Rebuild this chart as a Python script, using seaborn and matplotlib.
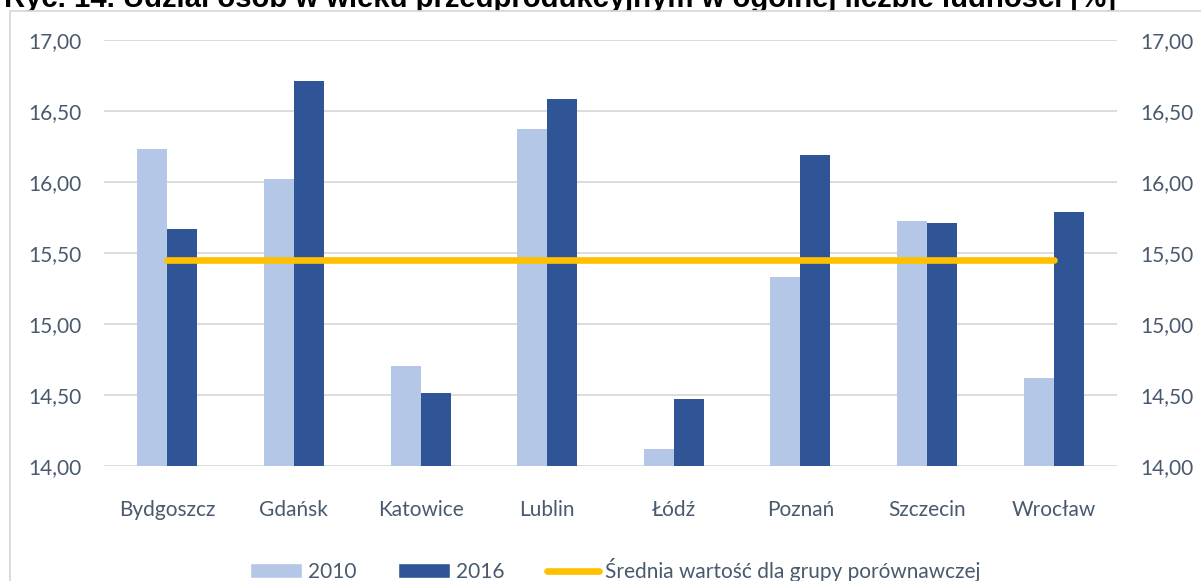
import numpy as np
import pandas as pd
import matplotlib
matplotlib.use("Agg")
import matplotlib.pyplot as plt
from matplotlib.patches import Rectangle
from matplotlib.lines import Line2D
import seaborn as sns

cities = ["Bydgoszcz", "Gdańsk", "Katowice", "Lublin", "Łódź", "Poznań", "Szczecin", "Wrocław"]
values_2010 = [16.23, 16.02, 14.70, 16.37, 14.12, 15.33, 15.72, 14.62]
values_2016 = [15.67, 16.71, 14.51, 16.58, 14.47, 16.19, 15.71, 15.79]
group_avg = [15.45, 15.45, 15.45, 15.45, 15.45, 15.45, 15.45, 15.45]
years = ["2010", "2016"]
y_ticks = [14.0, 14.5, 15.0, 15.5, 16.0, 16.5, 17.0]

title = "Ryc. 14. Udział osób w wieku przedprodukcyjnym w ogólnej liczbie ludności [%]"
avg_label = "Średnia wartość dla grupy porównawczej"

colors = ["#B4C7E7", "#2F5597"]
line_color = "#FFC000"
text_color = "#495A6E"
grid_color = "#D9D9D9"

sns.set_theme(style="white")
plt.rcParams["font.family"] = ["Lato", "DejaVu Sans"]

df = pd.DataFrame({
    "city": cities * 2,
    "year": [years[0]] * len(cities) + [years[1]] * len(cities),
    "value": values_2010 + values_2016,
})

fig = plt.figure(figsize=(12.01, 5.81), dpi=100)

# title sits behind the chart frame, so its lower part is hidden (as in the source)
fig.text(0.003, 1 - 7 / 581, title, ha="left", va="baseline",
         fontsize=21.1, fontweight="bold", family="Liberation Sans",
         color="black", zorder=-3)
fig.patches.append(Rectangle((10 / 1201, -0.1), 1.2, 1.1 - 11 / 581,
                             transform=fig.transFigure, facecolor="white",
                             edgecolor=grid_color, linewidth=1.3, zorder=-2))

ax = fig.add_axes([104 / 1201, 1 - 465.7 / 581, (1117 - 104) / 1201, (465.7 - 39.7) / 581])
ax.patch.set_alpha(0)

sns.barplot(data=df, x="city", y="value", hue="year", palette=colors,
            saturation=1, width=0.474, linewidth=0, ax=ax, legend=False)

pos = np.arange(len(cities))
ax.plot(pos, group_avg, color=line_color, lw=4.8, solid_capstyle="round", zorder=4)

ax.set_ylim(14, 17)
ax.set_xlim(-0.5, len(cities) - 0.5)
ax.set_yticks(y_ticks)
ax.set_yticklabels([f"{t:.2f}".replace(".", ",") for t in y_ticks])
ax.set_xlabel("")
ax.set_ylabel("")
ax.yaxis.grid(True, color=grid_color, lw=1.3)
ax.set_axisbelow(True)
for s in ax.spines.values():
    s.set_visible(False)
ax.tick_params(axis="y", length=0, pad=16.5, labelsize=15, labelcolor=text_color)
ax.tick_params(axis="x", length=0, pad=25, labelsize=15, labelcolor=text_color)

ax2 = ax.twinx()
ax2.set_ylim(14, 17)
ax2.set_yticks(y_ticks)
ax2.set_yticklabels([f"{t:.2f}".replace(".", ",") for t in y_ticks])
for s in ax2.spines.values():
    s.set_visible(False)
ax2.tick_params(axis="y", length=0, pad=16.5, labelsize=15, labelcolor=text_color)

handles = [
    Rectangle((0, 0), 1, 1, facecolor=colors[0]),
    Rectangle((0, 0), 1, 1, facecolor=colors[1]),
    Line2D([0], [0], color=line_color, lw=4.8, solid_capstyle="round"),
]
leg = fig.legend(handles, years + [avg_label], loc="center",
                 bbox_to_anchor=(615 / 1201, 1 - 570 / 581), ncol=3,
                 frameon=False, fontsize=15, handlelength=2.5, handleheight=0.7,
                 handletextpad=0.3, columnspacing=2.0, labelcolor=text_color)

fig.savefig("out.png", dpi=100)
